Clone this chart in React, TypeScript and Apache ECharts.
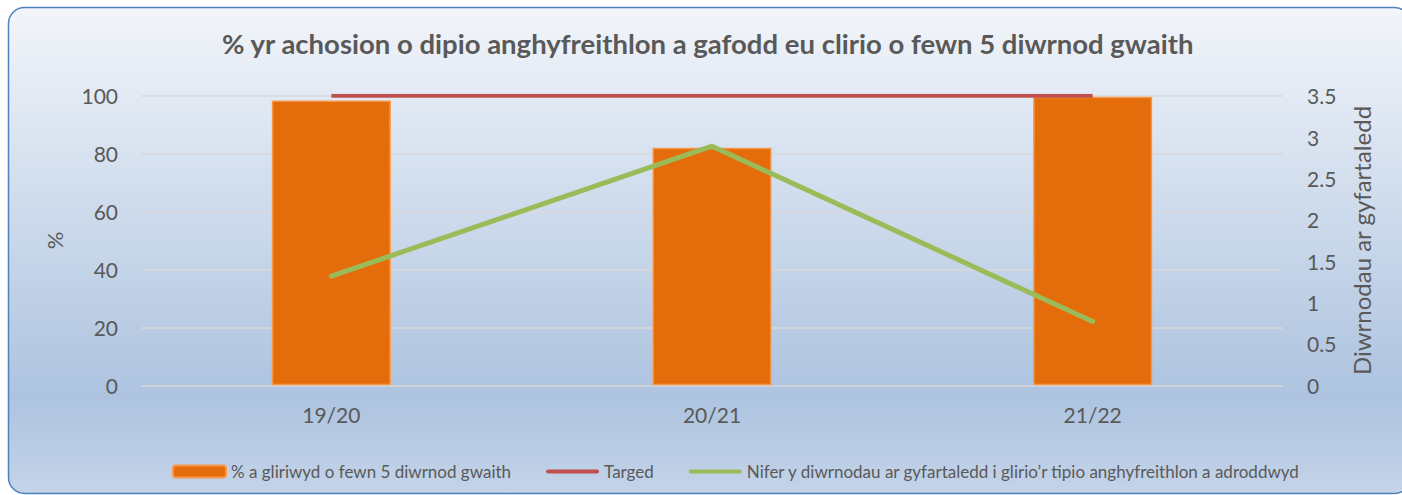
import React, { useEffect, useRef } from "react";
import * as echarts from "echarts";

const categories = ["19/20", "20/21", "21/22"];
const clearedPct = [98.3, 82.0, 99.6];
const target = [100, 100, 100];
const avgDays = [1.32, 2.89, 0.77];
const leftTicks = [0, 20, 40, 60, 80, 100];
const rightTicks = [0, 0.5, 1, 1.5, 2, 2.5, 3, 3.5];

const seriesNames = [
  "% a gliriwyd o fewn 5 diwrnod gwaith",
  "Targed",
  "Nifer y diwrnodau ar gyfartaledd i glirio\u2019r tipio anghyfreithlon a adroddwyd",
];

const FONT = "Lato, 'Open Sans', sans-serif";
const TXT = "#595959";
const LINE_ICON = "path://M0,0M53,12M2,4L51,4Q53,4 53,6Q53,8 51,8L2,8Q0,8 0,6Q0,4 2,4Z";

export default function App() {
  const ref = useRef<HTMLDivElement>(null);
  useEffect(() => {
    if (!ref.current) return;
    const chart = echarts.init(ref.current, null, { renderer: "svg" });
    chart.setOption({
      animation: false,
      backgroundColor: "#ffffff",
      textStyle: { fontFamily: FONT },
      graphic: [
        {
          type: "rect",
          z: -10,
          silent: true,
          shape: { x: 8.5, y: 7.5, width: 1402, height: 486, r: 16 },
          style: {
            fill: new echarts.graphic.LinearGradient(0, 0, 0, 1, [
              { offset: 0, color: "#f2f5fa" },
              { offset: 0.8, color: "#adc3df" },
              { offset: 1, color: "#c4d4e9" },
            ]),
            stroke: "#4f81bd",
            lineWidth: 1.5,
          },
        },
      ],
      title: {
        text: "% yr achosion o dipio anghyfreithlon a gafodd eu clirio o fewn 5 diwrnod gwaith",
        left: 222,
        top: 29,
        padding: 0,
        textStyle: { fontFamily: FONT, fontSize: 27.5, fontWeight: "bold", color: TXT },
      },
      legend: {
        top: 458,
        left: 167,
        itemWidth: 53,
        itemHeight: 12,
        itemGap: 35,
        textStyle: { fontFamily: FONT, fontSize: 17, color: TXT },
        data: [
          { name: seriesNames[0] },
          { name: seriesNames[1], icon: LINE_ICON },
          { name: seriesNames[2], icon: LINE_ICON },
        ],
      },
      grid: { left: 141, right: 119, top: 95.7, bottom: 109.7 },
      xAxis: {
        type: "category",
        data: categories,
        axisLine: { show: false },
        axisTick: { show: false },
        axisLabel: { fontFamily: FONT, fontSize: 21, color: TXT, margin: 19 },
      },
      yAxis: [
        {
          type: "value",
          min: leftTicks[0],
          max: leftTicks[leftTicks.length - 1],
          interval: 20,
          name: "%",
          nameLocation: "middle",
          nameGap: 76,
          nameRotate: 90,
          nameTextStyle: { fontFamily: FONT, fontSize: 22, color: TXT },
          axisLine: { show: false },
          axisTick: { show: false },
          axisLabel: { fontFamily: FONT, fontSize: 21, color: TXT, margin: 23 },
          splitLine: { lineStyle: { color: "#d9d9d9", width: 1.5 } },
        },
        {
          type: "value",
          position: "right",
          min: rightTicks[0],
          max: rightTicks[rightTicks.length - 1],
          interval: 0.5,
          name: "Diwrnodau ar gyfartaledd",
          nameLocation: "middle",
          nameGap: 66,
          nameRotate: 90,
          nameTextStyle: { fontFamily: FONT, fontSize: 24, color: TXT },
          axisLine: { show: false },
          axisTick: { show: false },
          axisLabel: { fontFamily: FONT, fontSize: 21, color: TXT, margin: 24 },
          splitLine: { show: false },
        },
      ],
      series: [
        {
          name: seriesNames[0],
          type: "bar",
          data: clearedPct,
          barWidth: 119,
          itemStyle: { color: "#e46c0a", borderColor: "#f79646", borderWidth: 1.5 },
          z: 2,
        },
        {
          name: seriesNames[1],
          type: "line",
          data: target,
          symbol: "none",
          lineStyle: { color: "#c0504d", width: 4 },
          itemStyle: { color: "#c0504d" },
          z: 3,
        },
        {
          name: seriesNames[2],
          type: "line",
          yAxisIndex: 1,
          data: avgDays,
          symbol: "none",
          lineStyle: { color: "#9bbb59", width: 5, cap: "round" },
          itemStyle: { color: "#9bbb59" },
          z: 4,
        },
      ],
    });
    return () => chart.dispose();
  }, []);
  return (
    <div
      ref={ref}
      style={{ position: "fixed", left: 0, top: 0, width: 1402, height: 495 }}
    />
  );
}
